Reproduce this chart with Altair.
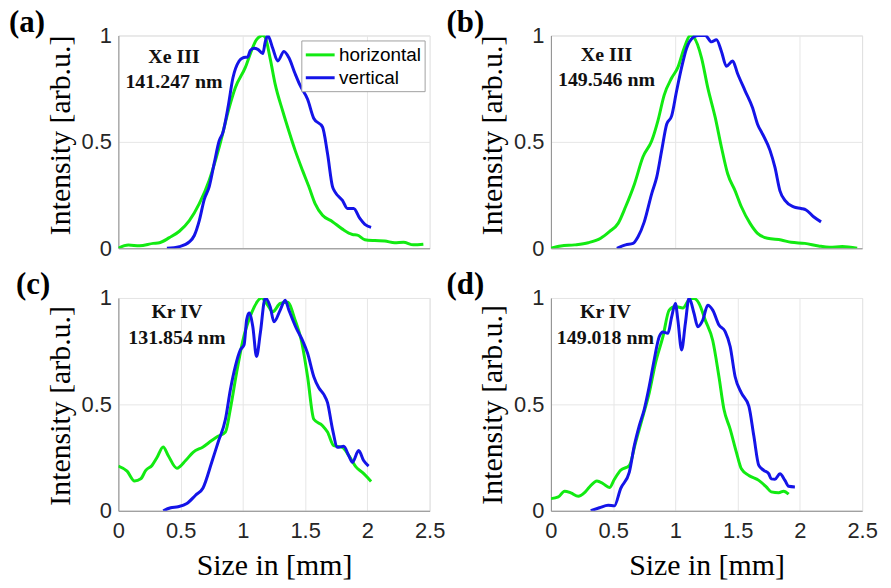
import altair as alt
import pandas as pd

# ---------------- data ----------------
# (a) Xe III 141.247 nm
a_h_x = [0, 0.08, 0.17, 0.28, 0.33, 0.41, 0.49, 0.57, 0.65, 0.73, 0.81, 0.89, 0.94, 1.02, 1.07, 1.11, 1.16, 1.18,
         1.22, 1.26, 1.32, 1.37, 1.42, 1.48, 1.53, 1.58, 1.64, 1.72, 1.80, 1.88, 1.92, 1.98, 2.06, 2.14, 2.22, 2.29,
         2.37, 2.45]
a_h_y = [0, 0.015, 0.012, 0.023, 0.026, 0.05, 0.08, 0.13, 0.21, 0.32, 0.475, 0.66, 0.755, 0.85, 0.93, 0.98, 1.0, 0.99,
         0.89, 0.77, 0.645, 0.55, 0.46, 0.365, 0.29, 0.21, 0.155, 0.125, 0.09, 0.065, 0.062, 0.04, 0.036, 0.034, 0.026,
         0.028, 0.016, 0.019]
a_v_x = [0.39, 0.49, 0.57, 0.61, 0.65, 0.69, 0.73, 0.77, 0.81, 0.84, 0.88, 0.92, 0.97, 1.0, 1.04, 1.06, 1.09, 1.12,
         1.16, 1.18, 1.20, 1.24, 1.28, 1.33, 1.37, 1.42, 1.46, 1.52, 1.57, 1.64, 1.68, 1.72, 1.74, 1.80, 1.84, 1.89,
         1.94, 1.98, 2.03]
a_v_y = [0, 0.008, 0.03, 0.06, 0.13, 0.23, 0.29, 0.40, 0.505, 0.545, 0.66, 0.80, 0.88, 0.895, 0.90, 0.93, 0.94, 0.935,
         0.915, 0.97, 1.0, 0.94, 0.88, 0.925, 0.895, 0.82, 0.765, 0.70, 0.61, 0.57, 0.445, 0.29, 0.265, 0.225, 0.187,
         0.187, 0.14, 0.112, 0.098]

# (b) Xe III 149.546 nm
b_h_x = [0, 0.08, 0.19, 0.30, 0.40, 0.47, 0.54, 0.60, 0.67, 0.74, 0.81, 0.86, 0.91, 0.97, 1.02, 1.07, 1.12, 1.15,
         1.21, 1.26, 1.32, 1.37, 1.42, 1.48, 1.53, 1.60, 1.66, 1.74, 1.85, 1.93, 2.04, 2.15, 2.24, 2.34, 2.46]
b_h_y = [0, 0.011, 0.016, 0.026, 0.047, 0.078, 0.117, 0.195, 0.30, 0.43, 0.505, 0.60, 0.72, 0.80, 0.85, 0.94, 1.0,
         0.99, 0.895, 0.755, 0.615, 0.475, 0.35, 0.27, 0.195, 0.117, 0.07, 0.047, 0.039, 0.028, 0.023, 0.011, 0.005,
         0.008, 0]
b_v_x = [0.53, 0.60, 0.66, 0.70, 0.75, 0.81, 0.85, 0.89, 0.93, 0.97, 1.01, 1.05, 1.09, 1.14, 1.18, 1.24, 1.29, 1.33,
         1.37, 1.41, 1.46, 1.50, 1.56, 1.62, 1.66, 1.70, 1.76, 1.80, 1.84, 1.88, 1.95, 2.01, 2.05, 2.11, 2.17]
b_v_y = [0, 0.016, 0.023, 0.054, 0.124, 0.257, 0.334, 0.46, 0.583, 0.622, 0.74, 0.85, 0.94, 0.99, 1.0, 1.0, 0.97, 0.98,
         0.925, 0.855, 0.88, 0.82, 0.74, 0.66, 0.583, 0.537, 0.46, 0.38, 0.27, 0.225, 0.195, 0.187, 0.18, 0.148, 0.124]

# (c) Kr IV 131.854 nm
c_h_x = [0, 0.07, 0.13, 0.18, 0.22, 0.27, 0.31, 0.36, 0.40, 0.47, 0.54, 0.60, 0.68, 0.75, 0.80, 0.86, 0.90, 0.95,
         1.0, 1.07, 1.15, 1.20, 1.24, 1.30, 1.36, 1.42, 1.47, 1.52, 1.57, 1.64, 1.68, 1.73, 1.80, 1.85, 1.91, 1.96,
         2.03]
c_h_y = [0.21, 0.186, 0.14, 0.15, 0.19, 0.213, 0.25, 0.30, 0.26, 0.20, 0.236, 0.275, 0.30, 0.33, 0.35, 0.37, 0.48,
         0.65, 0.80, 0.93, 1.0, 0.966, 0.935, 0.974, 0.98, 0.896, 0.80, 0.63, 0.43, 0.40, 0.37, 0.306, 0.298, 0.26,
         0.205, 0.18, 0.138]
c_v_x = [0.36, 0.42, 0.48, 0.55, 0.62, 0.68, 0.75, 0.80, 0.86, 0.90, 0.94, 0.98, 1.01, 1.03, 1.05, 1.08, 1.11, 1.14,
         1.18, 1.22, 1.25, 1.30, 1.34, 1.37, 1.43, 1.48, 1.52, 1.57, 1.61, 1.65, 1.68, 1.72, 1.76, 1.81, 1.85, 1.88,
         1.93, 1.97, 2.01]
c_v_y = [0, 0.014, 0.019, 0.034, 0.073, 0.107, 0.228, 0.32, 0.43, 0.57, 0.68, 0.756, 0.78, 0.896, 0.93, 0.865, 0.725,
         0.834, 1.0, 0.958, 0.888, 0.943, 0.989, 0.943, 0.857, 0.80, 0.74, 0.63, 0.578, 0.547, 0.508, 0.384, 0.298,
         0.303, 0.26, 0.228, 0.283, 0.236, 0.21]

# (d) Kr IV 149.018 nm
d_h_x = [0, 0.06, 0.11, 0.16, 0.22, 0.27, 0.31, 0.37, 0.42, 0.47, 0.51, 0.56, 0.63, 0.68, 0.74, 0.79, 0.84, 0.90,
         0.95, 1.0, 1.06, 1.12, 1.15, 1.19, 1.24, 1.30, 1.35, 1.39, 1.44, 1.49, 1.53, 1.59, 1.67, 1.73, 1.77, 1.83,
         1.87, 1.91]
d_h_y = [0.057, 0.065, 0.092, 0.084, 0.068, 0.085, 0.112, 0.14, 0.127, 0.109, 0.148, 0.19, 0.213, 0.32, 0.446, 0.554,
         0.694, 0.818, 0.943, 0.96, 0.953, 0.997, 0.997, 0.974, 0.896, 0.80, 0.63, 0.477, 0.384, 0.275, 0.197, 0.166,
         0.143, 0.112, 0.089, 0.085, 0.092, 0.078]
d_v_x = [0.32, 0.39, 0.46, 0.51, 0.56, 0.63, 0.67, 0.71, 0.75, 0.79, 0.83, 0.87, 0.90, 0.94, 0.97, 1.0, 1.02, 1.05,
         1.08, 1.11, 1.15, 1.18, 1.22, 1.26, 1.30, 1.35, 1.40, 1.44, 1.48, 1.53, 1.59, 1.63, 1.67, 1.71, 1.75, 1.77,
         1.80, 1.84, 1.88, 1.91, 1.96]
d_v_y = [0, 0.014, 0.026, 0.023, 0.104, 0.182, 0.306, 0.40, 0.477, 0.585, 0.71, 0.818, 0.84, 0.834, 0.911, 0.974,
         0.896, 0.756, 0.88, 1.0, 0.927, 0.865, 0.896, 0.966, 0.943, 0.873, 0.842, 0.772, 0.63, 0.554, 0.492, 0.352,
         0.213, 0.19, 0.174, 0.15, 0.148, 0.174, 0.143, 0.115, 0.112]

series_names = ["horizontal", "vertical"]
panel_letters = ["(a)", "(b)", "(c)", "(d)"]
ion_names = ["Xe III", "Xe III", "Kr IV", "Kr IV"]
wavelengths = ["141.247 nm", "149.546 nm", "131.854 nm", "149.018 nm"]
x_ticks_bottom = [0, 0.5, 1, 1.5, 2, 2.5]
x_ticks_top = [1, 2]
y_ticks = [0, 0.5, 1]

# annotation anchors in data units (centre x, baseline y of the two lines)
ann_x = [0.447, 0.447, 0.47, 0.438]
ann_y1 = [0.869, 0.878, 0.907, 0.907]
ann_y2 = [0.752, 0.762, 0.785, 0.785]

GREEN = "#12ea12"
BLUE = "#1414e8"
SERIF = "Liberation Serif"
SANS = "Liberation Sans"


def make_df(hx, hy, vx, vy):
    return pd.concat([
        pd.DataFrame({"x": hx, "y": hy, "series": series_names[0]}),
        pd.DataFrame({"x": vx, "y": vy, "series": series_names[1]}),
    ], ignore_index=True)


def panel(i, hx, hy, vx, vy, bottom, show_legend, label_dx, title_y):
    df = make_df(hx, hy, vx, vy)
    if bottom:
        xaxis = alt.Axis(values=x_ticks_bottom, format="~g", title="Size in [mm]",
                         labelFont=SANS, labelFontSize=22, labelColor="#262626", labelPadding=10,
                         labelFlush=False, titleFont=SERIF, titleFontSize=30, titleFontWeight="normal",
                         titleColor="black", titlePadding=9, ticks=False, grid=True,
                         gridColor="#e6e6e6", domainColor="#8c8c8c")
    else:
        xaxis = alt.Axis(values=x_ticks_top, labels=False, title=None, ticks=False, grid=True,
                         gridColor="#e6e6e6", domainColor="#8c8c8c")
    yaxis = alt.Axis(values=y_ticks, format="~g", title="Intensity [arb.u.]",
                     labelFont=SANS, labelFontSize=22, labelColor="#262626", labelPadding=7,
                     labelFlush=False, titleFont=SERIF, titleFontSize=30, titleFontWeight="normal",
                     titleColor="black", titlePadding=6, titleY=title_y, ticks=False, grid=True,
                     gridColor="#e6e6e6", domainColor="#8c8c8c")
    if show_legend:
        legend = alt.Legend(title=None, orient="top-right", offset=5, symbolType="M-1,0H1.9",
                            symbolSize=400, symbolStrokeWidth=3, labelFont=SANS, labelFontSize=19,
                            labelColor="black", labelOffset=12, padding=3, rowPadding=1,
                            fillColor="white", strokeColor="#a0a0a0", cornerRadius=0)
    else:
        legend = None
    lines = alt.Chart(df).mark_line(strokeWidth=3, clip=True, interpolate="monotone").encode(
        x=alt.X("x:Q", scale=alt.Scale(domain=[0, 2.5], nice=False, zero=False), axis=xaxis),
        y=alt.Y("y:Q", scale=alt.Scale(domain=[0, 1], nice=False, zero=False), axis=yaxis),
        color=alt.Color("series:N", scale=alt.Scale(domain=series_names, range=[GREEN, BLUE]),
                        legend=legend),
    )
    ann_df = pd.DataFrame({"x": [ann_x[i], ann_x[i]], "y": [ann_y1[i], ann_y2[i]],
                           "t": [ion_names[i], wavelengths[i]]})
    ann = alt.Chart(ann_df).mark_text(font=SERIF, fontSize=20, fontWeight="bold", color="#111111",
                                      align="center", baseline="alphabetic").encode(
        x="x:Q", y="y:Q", text="t:N")
    lab = alt.Chart(pd.DataFrame({"t": [panel_letters[i]]})).mark_text(
        font=SERIF, fontSize=31, fontWeight="bold", color="black", align="left",
        baseline="alphabetic").encode(x=alt.value(label_dx), y=alt.value(-4), text="t:N")
    return alt.layer(lines, ann, lab).properties(width=313, height=214)


pa = panel(0, a_h_x, a_h_y, a_v_x, a_v_y, False, True, -110, 100)
pb = panel(1, b_h_x, b_h_y, b_v_x, b_v_y, False, False, -105, 100)
pc = panel(2, c_h_x, c_h_y, c_v_x, c_v_y, True, False, -103, 108)
pd_ = panel(3, d_h_x, d_h_y, d_v_x, d_v_y, True, False, -105, 107)

chart = alt.concat(pa, pb, pc, pd_, columns=2, spacing={"row": 50, "column": 122},
                   bounds="flush").resolve_scale(color="independent").properties(
    padding={"left": 0, "top": -4, "right": 5, "bottom": 0}).configure_view(
    stroke="#dcdcdc").configure(background="white")

chart.save("out.html", embed_options={"renderer": "svg", "actions": False})
